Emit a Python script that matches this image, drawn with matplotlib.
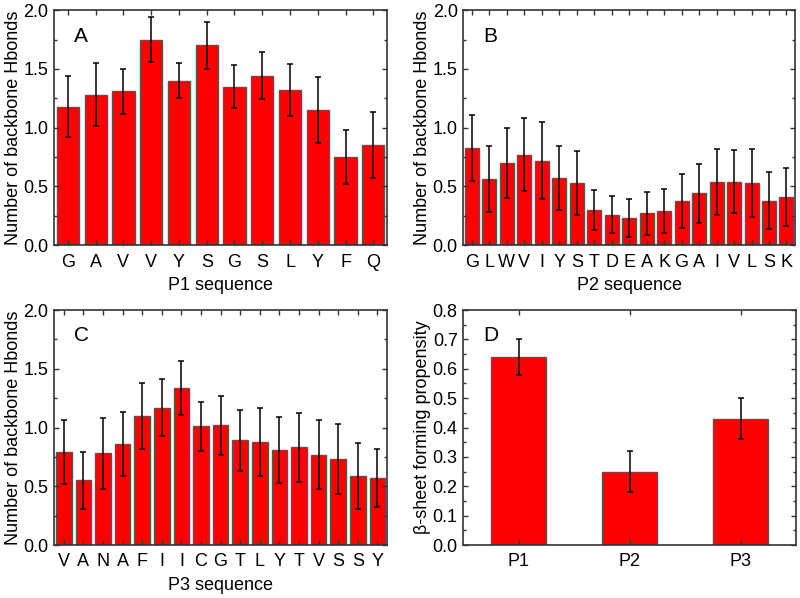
import numpy as np
import matplotlib.pyplot as plt
from matplotlib.ticker import MultipleLocator

plt.rcParams['font.family'] = ['Liberation Sans', 'DejaVu Sans']

# ---- data
p1_seq = ['G', 'A', 'V', 'V', 'Y', 'S', 'G', 'S', 'L', 'Y', 'F', 'Q']
p1_val = [1.18, 1.28, 1.31, 1.75, 1.40, 1.70, 1.35, 1.44, 1.32, 1.15, 0.75, 0.85]
p1_err = [0.26, 0.27, 0.19, 0.19, 0.15, 0.20, 0.18, 0.20, 0.22, 0.28, 0.23, 0.28]

p2_seq = ['G', 'L', 'W', 'V', 'I', 'Y', 'S', 'T', 'D', 'E', 'A', 'K', 'G', 'A', 'I', 'V', 'L', 'S', 'K']
p2_val = [0.83, 0.56, 0.70, 0.77, 0.72, 0.57, 0.53, 0.30, 0.26, 0.23, 0.27, 0.29, 0.38, 0.44, 0.54, 0.54, 0.53, 0.38, 0.41]
p2_err = [0.28, 0.28, 0.30, 0.31, 0.33, 0.27, 0.27, 0.17, 0.16, 0.16, 0.18, 0.19, 0.23, 0.25, 0.28, 0.27, 0.29, 0.24, 0.25]

p3_seq = ['V', 'A', 'N', 'A', 'F', 'I', 'I', 'C', 'G', 'T', 'L', 'Y', 'T', 'V', 'S', 'S', 'Y']
p3_val = [0.79, 0.55, 0.78, 0.86, 1.10, 1.17, 1.34, 1.01, 1.02, 0.89, 0.88, 0.81, 0.83, 0.77, 0.73, 0.59, 0.57]
p3_err = [0.27, 0.24, 0.30, 0.27, 0.28, 0.24, 0.23, 0.21, 0.25, 0.26, 0.29, 0.28, 0.29, 0.29, 0.30, 0.28, 0.25]

pep_names = ['P1', 'P2', 'P3']
sheet_val = [0.64, 0.25, 0.43]
sheet_err = [0.06, 0.07, 0.07]

fig = plt.figure(figsize=(8, 5.98), dpi=100)

boxes = {
    'A': [0.0675, 0.590, 0.4165, 0.393],
    'B': [0.579, 0.590, 0.415, 0.393],
    'C': [0.0675, 0.0886, 0.4165, 0.393],
    'D': [0.579, 0.0886, 0.416, 0.393],
}

def style(ax):
    for s in ax.spines.values():
        s.set_color('#333333')
        s.set_linewidth(1.2)
    ax.tick_params(direction='in', top=True, right=True, labelsize=13,
                   length=3.5, width=1, color='#333333')
    ax.tick_params(axis='x', pad=6)
    ax.tick_params(axis='y', pad=4)
    ax.tick_params(which='minor', direction='in', right=True, length=2,
                   width=1, color='#333333')
    ax.tick_params(axis='x', which='minor', bottom=False, top=False)

def seq_panel(key, seq, val, err, xlabel):
    ax = fig.add_axes(boxes[key])
    x = np.arange(len(seq))
    ax.bar(x, val, width=0.8, color='#ff0000', edgecolor='#555555', linewidth=1)
    ax.errorbar(x, val, yerr=err, fmt='none', ecolor='black', elinewidth=1.1,
                capsize=2.5, capthick=1.1)
    ax.set_xlim(-0.5, len(seq) - 0.5)
    ax.set_ylim(0, 2.0)
    ax.set_xticks(x)
    ax.set_xticklabels(seq)
    ax.yaxis.set_major_locator(MultipleLocator(0.5))
    ax.yaxis.set_minor_locator(MultipleLocator(0.25))
    ax.set_ylabel('Number of backbone Hbonds', fontsize=13, labelpad=1)
    ax.set_xlabel(xlabel, fontsize=13, labelpad=5)
    ax.text(0.06, 0.89, key, transform=ax.transAxes, fontsize=15, va='center')
    style(ax)
    return ax

seq_panel('A', p1_seq, p1_val, p1_err, 'P1 sequence')
seq_panel('B', p2_seq, p2_val, p2_err, 'P2 sequence')
seq_panel('C', p3_seq, p3_val, p3_err, 'P3 sequence')

ax = fig.add_axes(boxes['D'])
x = np.arange(len(pep_names))
ax.bar(x, sheet_val, width=0.5, color='#ff0000', edgecolor='#555555', linewidth=1)
ax.errorbar(x, sheet_val, yerr=sheet_err, fmt='none', ecolor='black',
            elinewidth=1.1, capsize=2.5, capthick=1.1)
ax.set_xlim(-0.5, 2.5)
ax.set_ylim(0, 0.8)
ax.set_xticks(x)
ax.set_xticklabels(pep_names)
ax.yaxis.set_major_locator(MultipleLocator(0.1))
ax.yaxis.set_minor_locator(MultipleLocator(0.05))
ax.set_ylabel('β-sheet forming propensity', fontsize=13, labelpad=1)
ax.text(0.06, 0.89, 'D', transform=ax.transAxes, fontsize=15, va='center')
style(ax)

fig.savefig('out.png', dpi=100)
